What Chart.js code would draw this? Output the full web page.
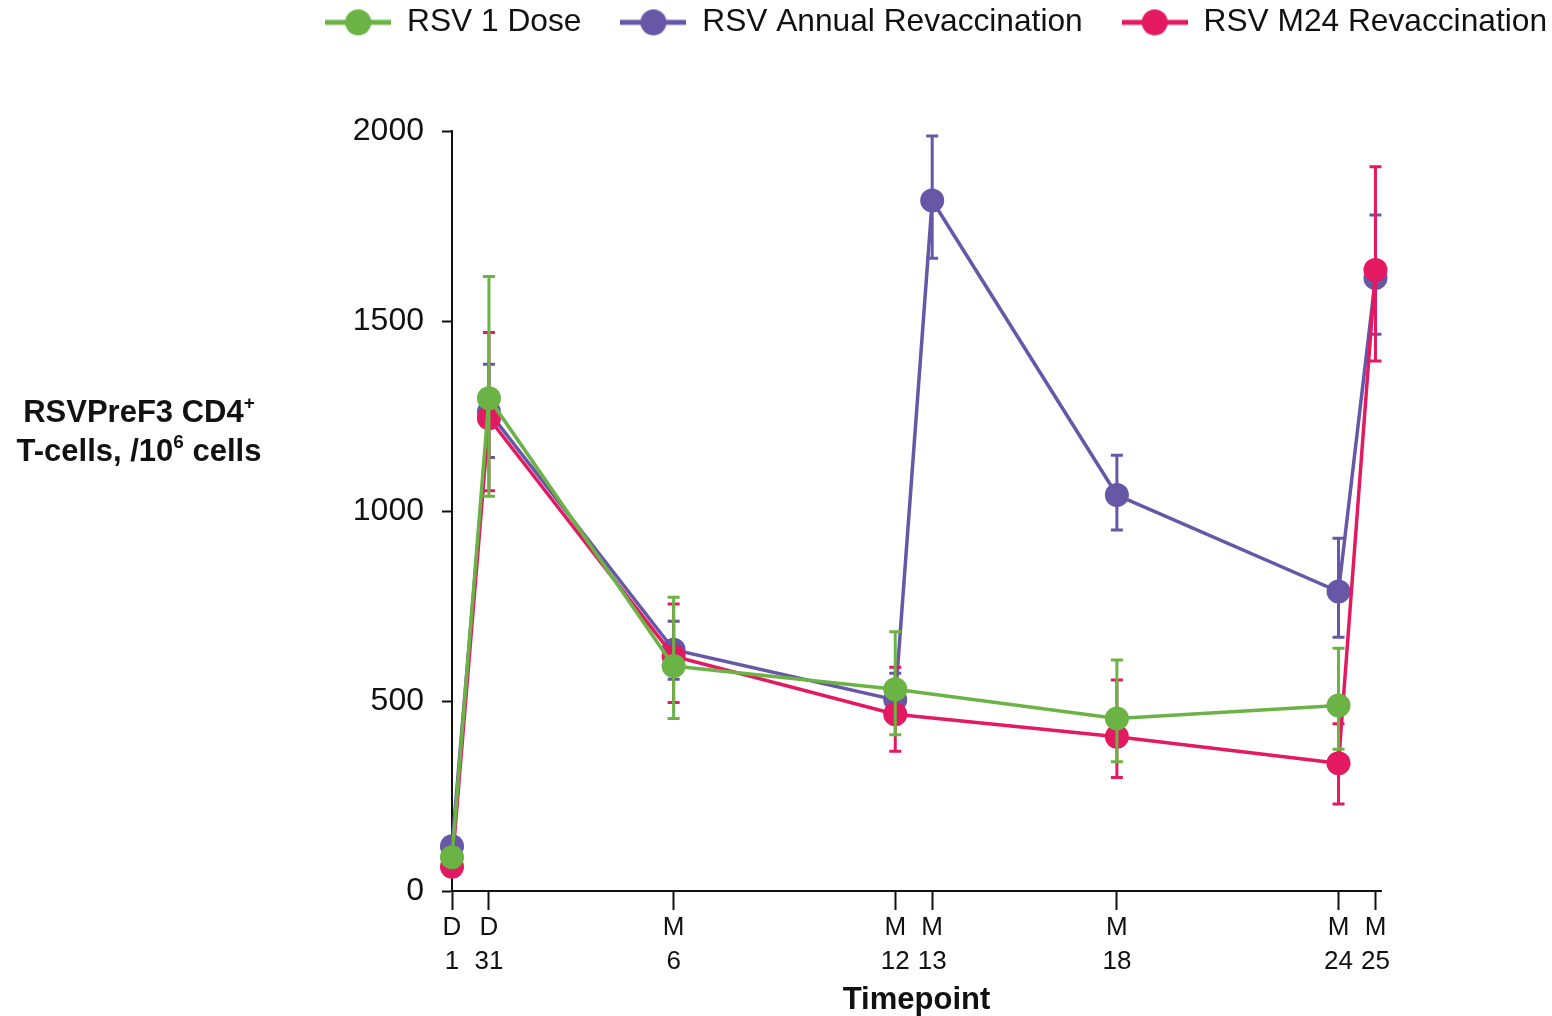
<!DOCTYPE html>
<html>
<head>
<meta charset="utf-8">
<script src="https://cdn.jsdelivr.net/npm/chart.js@4"></script>
<style>
html, body { margin: 0; padding: 0; background: #fff; }
canvas { display: block; }
</style>
</head>
<body>
<canvas id="chart" width="1552" height="1016" style="width:1552px;height:1016px"></canvas>
<script>
const FONT = '"Liberation Sans", Arial, sans-serif'
const INK = '#111111'

// ─── DATA ─────────────────────────────────────────────────
// x = months after first dose (D1 = 0, D31 = 1)
const timepoints = [0, 1, 6, 12, 13, 18, 24, 25]
const tickLabels = [['D', '1'], ['D', '31'], ['M', '6'], ['M', '12'], ['M', '13'], ['M', '18'], ['M', '24'], ['M', '25']]
const yTicks = [0, 500, 1000, 1500, 2000]

const oneDose     = [89, 1297, 592, 531, null, 454, 488, null]
const oneDoseHigh = [null, 1617, 773, 682, null, 608, 639, null]
const oneDoseLow  = [null, 1039, 454, 411, null, 340, 373, null]

const annual      = [118, 1261, 635, 503, 1817, 1042, 788, 1613]
const annualHigh  = [null, 1386, 710, 573, 1987, 1147, 928, 1779]
const annualLow   = [null, 1141, 557, 445, 1665, 950, 668, 1465]

const m24         = [64, 1244, 618, 465, null, 406, 336, 1634]
const m24High     = [null, 1470, 755, 589, null, 555, 440, 1906]
const m24Low      = [null, 1053, 496, 368, null, 299, 229, 1395]

const GREEN = '#6ab344'
const PURPLE = '#6657a7'
const PINK = '#e31a62'

function points(values) {
    return values
        .map((v, i) => v == null ? null : { x: timepoints[i], y: v })
        .filter(Boolean)
}

// ─── LEGEND ICONS (line + dot) ────────────────────────────
function legendIcon(color) {
    const c = document.createElement('canvas')
    c.width = 66
    c.height = 28
    const g = c.getContext('2d')
    g.strokeStyle = color
    g.lineWidth = 5
    g.beginPath()
    g.moveTo(0, 14)
    g.lineTo(66, 14)
    g.stroke()
    g.fillStyle = color
    g.beginPath()
    g.arc(33, 14, 13, 0, Math.PI * 2)
    g.fill()
    return c
}
const icons = [legendIcon(GREEN), legendIcon(PURPLE), legendIcon(PINK)]

// ─── PLUGINS ──────────────────────────────────────────────
const errorBars = {
    id: 'errorBars',
    afterDatasetDraw(chart, args) {
        const ds = chart.data.datasets[args.index]
        if (!ds.errHigh) return
        const { ctx, scales: { x, y } } = chart
        ctx.save()
        ctx.strokeStyle = ds.borderColor
        ctx.lineWidth = 3
        timepoints.forEach((t, i) => {
            const hi = ds.errHigh[i]
            const lo = ds.errLow[i]
            if (hi == null || lo == null) return
            const px = x.getPixelForValue(t)
            const top = y.getPixelForValue(hi)
            const bot = y.getPixelForValue(lo)
            ctx.beginPath()
            ctx.moveTo(px, top); ctx.lineTo(px, bot)
            ctx.moveTo(px - 6, top); ctx.lineTo(px + 6, top)
            ctx.moveTo(px - 6, bot); ctx.lineTo(px + 6, bot)
            ctx.stroke()
        })
        ctx.restore()
    }
}

// room between the legend row and the plot
const legendSpace = {
    id: 'legendSpace',
    beforeLayout(chart) {
        const lg = chart.legend
        if (!lg || lg._patched) return
        lg._patched = true
        const fit = lg.fit
        lg.fit = function () {
            fit.call(this)
            this.height = 163.5
        }
    }
}

function drawRich(ctx, parts, cx, cy) {
    const base = `bold 31px ${FONT}`
    const small = `bold 19px ${FONT}`
    let total = 0
    parts.forEach(p => {
        ctx.font = p.sup ? small : base
        total += ctx.measureText(p.t).width
    })
    let x = cx - total / 2
    parts.forEach(p => {
        ctx.font = p.sup ? small : base
        ctx.fillText(p.t, x, p.sup ? cy - 9 : cy)
        x += ctx.measureText(p.t).width
    })
}

const yLabel = {
    id: 'yLabel',
    afterDraw(chart) {
        const ctx = chart.ctx
        ctx.save()
        ctx.fillStyle = INK
        ctx.textAlign = 'left'
        ctx.textBaseline = 'middle'
        drawRich(ctx, [{ t: 'RSVPreF3 CD4' }, { t: '+', sup: true }], 139, 413)
        drawRich(ctx, [{ t: 'T-cells, /10' }, { t: '6', sup: true }, { t: ' cells' }], 139, 452)
        ctx.restore()
    }
}

// ─── CHART ────────────────────────────────────────────────
new Chart(document.getElementById('chart'), {
    type: 'line',
    data: {
        datasets: [
            {
                label: 'RSV 1 Dose', data: points(oneDose), order: 0,
                errHigh: oneDoseHigh, errLow: oneDoseLow,
                borderColor: GREEN, backgroundColor: GREEN, pointBackgroundColor: GREEN
            },
            {
                label: 'RSV Annual Revaccination', data: points(annual), order: 2,
                errHigh: annualHigh, errLow: annualLow,
                borderColor: PURPLE, backgroundColor: PURPLE, pointBackgroundColor: PURPLE
            },
            {
                label: 'RSV M24 Revaccination', data: points(m24), order: 1,
                errHigh: m24High, errLow: m24Low,
                borderColor: PINK, backgroundColor: PINK, pointBackgroundColor: PINK
            }
        ]
    },
    options: {
        responsive: false,
        animation: false,
        events: [],
        layout: { padding: { top: -32.5, right: -34, bottom: 0, left: 0 } },
        datasets: { line: { clip: false } },
        elements: {
            line: { borderWidth: 3.5, tension: 0, fill: false },
            point: { radius: 12, borderWidth: 0, hoverRadius: 12 }
        },
        scales: {
            x: {
                type: 'linear',
                min: 0,
                max: 25.15,
                afterBuildTicks: s => { s.ticks = timepoints.map(v => ({ value: v })) },
                afterFit: s => { s.height = 125 },
                ticks: {
                    autoSkip: false,
                    maxRotation: 0,
                    padding: 1,
                    color: INK,
                    font: { family: FONT, size: 26, lineHeight: 1.3 },
                    callback: (v, i) => tickLabels[i]
                },
                grid: { drawOnChartArea: false, tickLength: 19, tickWidth: 2, tickColor: INK },
                border: { display: true, width: 2, color: INK },
                title: {
                    display: true,
                    text: 'Timepoint',
                    color: INK,
                    padding: { top: 0, bottom: 0 },
                    font: { family: FONT, size: 31, weight: 'bold', lineHeight: 1 }
                }
            },
            y: {
                min: 0,
                max: 2000,
                afterBuildTicks: s => { s.ticks = yTicks.map(v => ({ value: v })) },
                afterFit: s => { s.width = 452 },
                ticks: {
                    padding: 18,
                    color: INK,
                    font: { family: FONT, size: 32 },
                    callback: v => String(v)
                },
                grid: { drawOnChartArea: false, tickLength: 10, tickWidth: 2, tickColor: INK },
                border: { display: true, width: 2, color: INK }
            },
            // empty right-hand box, keeps the plot narrower than the legend
            y2: {
                position: 'right',
                display: true,
                ticks: { display: false },
                grid: { display: false },
                border: { display: false },
                afterFit: s => { s.width = 205 }
            }
        },
        plugins: {
            tooltip: { enabled: false },
            legend: {
                position: 'top',
                align: 'end',
                labels: {
                    usePointStyle: true,
                    pointStyleWidth: 66,
                    boxHeight: 31,
                    padding: 39,
                    color: INK,
                    font: { family: FONT, size: 31.7, lineHeight: 1 },
                    generateLabels(chart) {
                        const items = Chart.defaults.plugins.legend.labels.generateLabels(chart)
                        items.forEach(it => { it.pointStyle = icons[it.datasetIndex] })
                        return items
                    },
                    sort: (a, b) => a.datasetIndex - b.datasetIndex
                }
            }
        }
    },
    plugins: [errorBars, legendSpace, yLabel]
})
</script>
</body>
</html>
